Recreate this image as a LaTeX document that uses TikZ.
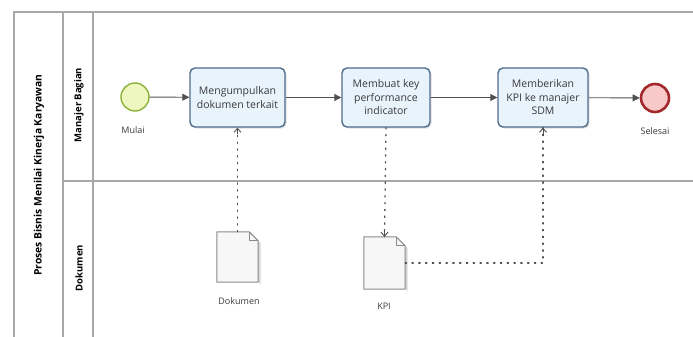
\documentclass[tikz,border=0pt]{standalone}
\usepackage{fontspec}
\setmainfont{Open Sans}
\usetikzlibrary{arrows.meta,shadows,calc}
\definecolor{poolgray}{HTML}{A8A8A8}
\definecolor{taskborder}{HTML}{4F6E8C}
\definecolor{taskfill}{HTML}{E9F3FC}
\definecolor{flowgray}{HTML}{505050}
\definecolor{startfill}{HTML}{EEF7BF}
\definecolor{startborder}{HTML}{8DB33A}
\definecolor{endfill}{HTML}{F7C9C9}
\definecolor{endborder}{HTML}{A3282C}
\definecolor{docborder}{HTML}{8A8A8A}
\definecolor{docfill}{HTML}{F7F7F7}
\definecolor{txtgray}{HTML}{3A3A3A}
\tikzset{
  poolline/.style={draw=poolgray,line width=1.6pt},
  task/.style={draw=taskborder,line width=1.4pt,fill=taskfill,rounded corners=5pt,
    minimum height=59pt,align=center,font=\fontsize{10.5}{13.5}\selectfont,text=txtgray,
    drop shadow={shadow xshift=1.5pt,shadow yshift=-1.5pt,opacity=0.25}},
  startev/.style={circle,draw=startborder,line width=1.4pt,fill=startfill,minimum size=28pt,inner sep=0pt},
  endev/.style={circle,draw=endborder,line width=2.6pt,fill=endfill,minimum size=28pt,inner sep=0pt},
  evlabel/.style={font=\fontsize{9}{11}\selectfont,text=txtgray},
  seqflow/.style={draw=flowgray,line width=0.9pt,-{Triangle[length=7pt,width=7pt]}},
  assoc/.style={draw=flowgray,line width=1.3pt,dash pattern=on 1.3pt off 5.5pt,line cap=round},
  assocarrow/.style={-{Straight Barb[length=4pt,width=7pt,line width=0.9pt]}},
  docnode/.style={minimum width=41pt,minimum height=50pt,inner sep=0pt},
  lanelabel/.style={rotate=90,font=\bfseries\fontsize{9.5}{11}\selectfont,text=black},
}
\newcommand{\docshape}[1]{%
  \fill[black,opacity=0.15] ($(#1.north west)+(2.5,2.5)$) -- ($(#1.north east)+(-6.5,2.5)$) -- ($(#1.north east)+(2.5,11.5)$) -- ($(#1.south east)+(2.5,2.5)$) -- cycle;
  \draw[docborder,line width=1pt,fill=docfill,line join=round] (#1.south west) -- (#1.north west) -- ($(#1.north east)+(-9,0)$) -- ($(#1.north east)+(0,9)$) -- (#1.south east) -- cycle;
  \draw[docborder,line width=0.8pt,line join=round] ($(#1.north east)+(-9,0)$) -- ($(#1.north east)+(-9,9)$) -- ($(#1.north east)+(0,9)$);
}
\begin{document}
\begin{tikzpicture}[x=1pt,y=-1pt]
\useasboundingbox (0,0) rectangle (693,337);
\fill[white] (0,0) rectangle (693,337);
% pool and lanes
\draw[poolline] (14,337) -- (14,12) -- (693,12);
\draw[poolline] (63,12) -- (63,337);
\draw[poolline] (93,12) -- (93,337);
\draw[poolline] (63,181) -- (693,181);
\node[rotate=90,font=\bfseries\fontsize{10.3}{12}\selectfont] (pool) at (39,175) {Proses Bisnis Menilai Kinerja Karyawan};
\node[lanelabel] (lane1) at (79,105) {Manajer Bagian};
\node[lanelabel] (lane2) at (79,268) {Dokumen};
% events
\node[startev] (start) at (135,97) {};
\node[evlabel] (startlbl) at (133,130) {Mulai};
\node[endev] (end) at (655,98) {};
\node[evlabel] (endlbl) at (655,131) {Selesai};
% tasks
\node[task,minimum width=95pt] (t1) at (237.5,97.5) {Mengumpulkan\\dokumen terkait};
\node[task,minimum width=88pt] (t2) at (386,97.5) {Membuat key\\performance\\indicator};
\node[task,minimum width=90pt] (t3) at (543,97.5) {Memberikan\\KPI ke manajer\\SDM};
% documents
\node[docnode] (doc1) at (237.5,257) {};
\docshape{doc1}
\node[evlabel] (doc1lbl) at (239,301) {Dokumen};
\node[docnode,minimum height=52pt] (doc2) at (384.5,263) {};
\docshape{doc2}
\node[evlabel] (doc2lbl) at (384,306) {KPI};
% sequence flows
\draw[seqflow] (start) -- (t1);
\draw[seqflow] (t1) -- (t2);
\draw[seqflow] (t2) -- (t3);
\draw[seqflow] (t3) -- (end);
% associations
\draw[assoc] (doc1.north) -- (t1.south);
\draw[flowgray,assocarrow] ($(t1.south)+(0,6)$) -- (t1.south);
\draw[assoc] (t2.south) -- (doc2.north);
\draw[flowgray,assocarrow] ($(doc2.north)+(0,-6)$) -- (doc2.north);
\coordinate (bend) at (t3.south |- doc2.east);
\draw[assoc] (doc2.east) -- (bend) -- (t3.south);
\draw[flowgray,assocarrow] ($(t3.south)+(0,6)$) -- (t3.south);
\end{tikzpicture}
\end{document}
